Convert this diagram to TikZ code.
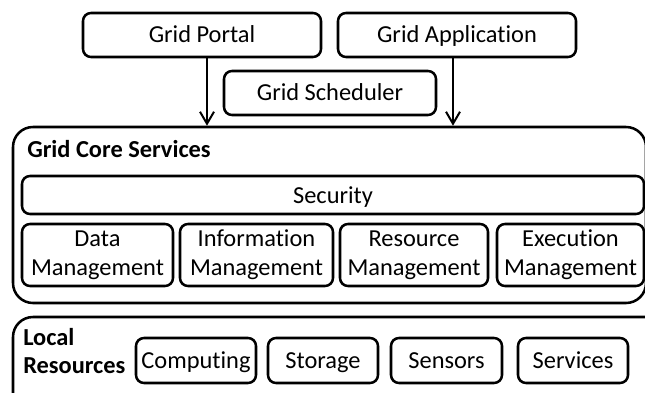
\documentclass[tikz,border=0pt]{standalone}
\usepackage{fontspec}
\setmainfont[Ligatures={NoCommon}]{Carlito}
\usetikzlibrary{arrows.meta}
\tikzset{
  box/.style={draw=black, line width=1.9pt, rounded corners=6pt, inner sep=0pt, align=center,
              font=\fontsize{18.3}{21.75}\selectfont},
  onebox/.style={box, text height=15pt, text depth=3pt},
  bigbox/.style={draw=black, line width=1.9pt, rounded corners=15pt, inner sep=0pt},
  title/.style={anchor=base west, inner sep=0pt, font=\fontsize{18.3}{21.75}\selectfont\bfseries},
  conn/.style={line width=1.5pt, -{Straight Barb[length=9pt,width=10.5pt,line width=1.5pt]}}
}
\begin{document}
\begin{tikzpicture}[x=0.75pt,y=-0.75pt]
\clip (0,0) rectangle (645,392);
\fill[white] (0,0) rectangle (645,392);
% outer boxes
\node[bigbox, minimum width=474.75pt, minimum height=132pt] (core) at (329.5,215) {};
\node[bigbox, minimum width=507.75pt, minimum height=84.75pt] (local) at (351.5,373.5) {};
% top row
\node[onebox, minimum width=178.5pt, minimum height=33pt] (portal) at (202,35) {Grid Portal};
\node[onebox, minimum width=178.5pt, minimum height=33pt] (app) at (457,35) {Grid Application};
\node[onebox, minimum width=159pt, minimum height=33pt] (sched) at (330,93) {Grid Scheduler};
% core services
\node[title] (coretitle) at (27,157) {Grid Core Services};
\node[onebox, minimum width=466.5pt, minimum height=28.5pt] (sec) at (333,195) {Security};
\node[box, minimum width=113.25pt, minimum height=46.5pt] (data) at (97.5,255) {Data\\Management};
\node[box, minimum width=114.75pt, minimum height=46.5pt] (info) at (256.5,255) {Information\\Management};
\node[box, minimum width=111pt, minimum height=46.5pt] (res) at (414,255) {Resource\\Management};
\node[box, minimum width=110.25pt, minimum height=46.5pt] (exec) at (570.5,255) {Execution\\Management};
% local resources
\node[title] (localtitle1) at (23,345) {Local};
\node[title] (localtitle2) at (23,373) {Resources};
\node[onebox, minimum width=90pt, minimum height=33.75pt] (comp) at (196,360.5) {Computing};
\node[onebox, minimum width=82.5pt, minimum height=33.75pt] (stor) at (323,360.5) {Storage};
\node[onebox, minimum width=83.25pt, minimum height=33.75pt] (sens) at (446.5,360.5) {Sensors};
\node[onebox, minimum width=82.5pt, minimum height=33.75pt] (serv) at (573,360.5) {Services};
% arrows
\draw[conn] ([xshift=3.75pt]portal.south) -- ([xshift=3.75pt]portal.south |- core.north);
\draw[conn] ([xshift=-3pt]app.south) -- ([xshift=-3pt]app.south |- core.north);
\end{tikzpicture}
\end{document}
